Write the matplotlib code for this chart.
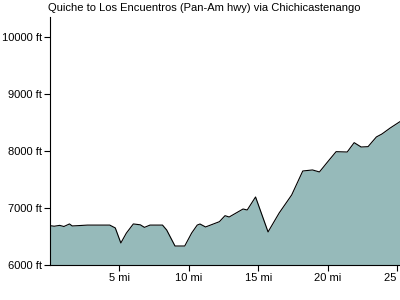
import matplotlib
matplotlib.use("Agg")
import matplotlib.pyplot as plt

plt.rcParams['font.family'] = ['Liberation Sans', 'DejaVu Sans']

# distance (mi) and elevation (ft)
miles = [0.0, 0.3, 0.7, 1.0, 1.4, 1.6, 2.0, 2.7, 3.5, 4.3, 4.7, 5.1, 5.5,
         6.0, 6.5, 6.8, 7.2, 8.1, 8.4, 9.0, 9.7, 10.2, 10.6, 10.8, 11.2,
         12.2, 12.6, 12.9, 13.9, 14.2, 14.8, 15.7, 16.5, 17.4, 18.2, 18.9,
         19.4, 20.0, 20.6, 21.4, 21.9, 22.4, 22.9, 23.5, 23.9, 24.5, 25.2]
elev_ft = [6690, 6680, 6695, 6675, 6720, 6685, 6690, 6700, 6700, 6700,
           6650, 6386, 6560, 6720, 6705, 6660, 6700, 6700, 6614, 6333,
           6333, 6561, 6700, 6719, 6667, 6760, 6865, 6842, 6982, 6965,
           7193, 6580, 6912, 7228, 7649, 7667, 7632, 7812, 7988, 7982,
           8146, 8070, 8076, 8246, 8298, 8404, 8515]

x_ticks = [5, 10, 15, 20, 25]
x_labels = ['5 mi', '10 mi', '15 mi', '20 mi', '25 mi']
y_ticks = [6000, 7000, 8000, 9000, 10000]
y_labels = ['6000 ft', '7000 ft', '8000 ft', '9000 ft', '10000 ft']

title = 'Quiche to Los Encuentros (Pan-Am hwy) via Chichicastenango'

fig = plt.figure(figsize=(4, 3), dpi=100)
ax = fig.add_axes([0.125, 0.1167, 0.875, 0.8266])

ax.fill_between(miles, elev_ft, 6000, color='#96baba', linewidth=0)
ax.plot(miles, elev_ft, color='black', linewidth=0.8)

ax.set_xlim(0, 25.2)
ax.set_ylim(6000, 10350)
ax.set_xticks(x_ticks)
ax.set_xticklabels(x_labels)
ax.set_yticks(y_ticks)
ax.set_yticklabels(y_labels)
ax.tick_params(length=4, width=0.8, labelsize=8, pad=2)

ax.spines['top'].set_visible(False)
ax.spines['right'].set_visible(False)

fig.text(0.12, 0.973, title, fontsize=8, va='center', ha='left')

fig.savefig('out.png', dpi=100)
